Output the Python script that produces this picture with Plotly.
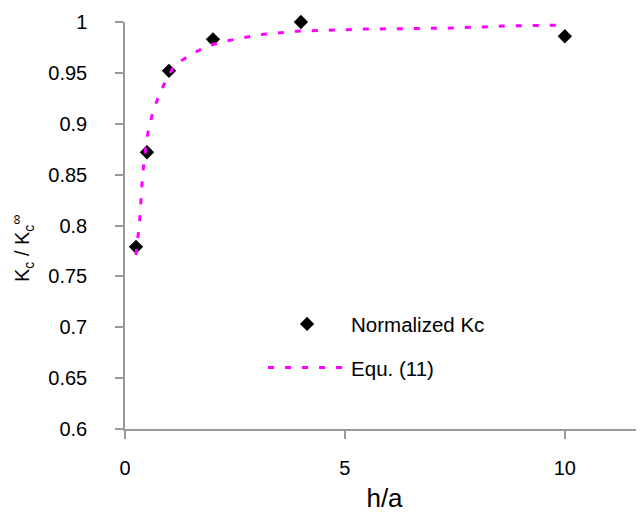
import plotly.graph_objects as go

# Measured data (Normalized Kc)
ha_data = [0.25, 0.5, 1.0, 2.0, 4.0, 10.0]
kc_data = [0.779, 0.872, 0.952, 0.983, 1.0, 0.986]

# Equ. (11) curve
ha_eq = [0.25, 0.27, 0.33, 0.39, 0.43, 0.52, 0.63, 0.79, 0.95, 1.13, 1.5, 1.85, 2.26, 3.06,
         3.9, 5.4, 7.4, 8.6, 10.0]
kc_eq = [0.771, 0.779, 0.803, 0.843, 0.862, 0.891, 0.911, 0.930, 0.944, 0.958, 0.968, 0.976,
         0.981, 0.9875, 0.991, 0.993, 0.994, 0.996, 0.997]

y_tickvals = [0.6, 0.65, 0.7, 0.75, 0.8, 0.85, 0.9, 0.95, 1.0]
y_ticktext = ["0.6", "0.65", "0.7", "0.75", "0.8", "0.85", "0.9", "0.95", "1"]
x_tickvals = [0, 5, 10]
x_ticktext = ["0", "5", "10"]

FONT = "Liberation Sans, Arial, sans-serif"

fig = go.Figure()
fig.add_trace(go.Scatter(
    x=ha_data, y=kc_data, mode="markers", name="Normalized Kc",
    marker=dict(symbol="diamond", size=11, color="black"),
    cliponaxis=False, legendgroup="a",
))
fig.add_trace(go.Scatter(
    x=ha_eq, y=kc_eq, mode="lines", name="Equ. (11)",
    line=dict(color="#FF00FF", width=3, dash="6px,11px"),
    cliponaxis=False, legendgroup="b",
))

fig.update_layout(
    width=636, height=505,
    margin=dict(l=117, r=0, t=14, b=84),
    paper_bgcolor="white", plot_bgcolor="white",
    font=dict(family=FONT, size=20, color="black"),
    showlegend=True,
    legend=dict(x=0.266, y=0.307, xanchor="left", yanchor="top",
                bgcolor="rgba(0,0,0,0)", font=dict(size=20.5, family=FONT),
                itemwidth=78, tracegroupgap=14),
    xaxis=dict(range=[0, 11.8], tickvals=x_tickvals, ticktext=x_ticktext,
               showgrid=False, zeroline=False, showline=True, linecolor="#999999",
               linewidth=1.5, ticks="outside", ticklen=8, tickcolor="#999999",
               tickwidth=1.5, ticklabelstandoff=12,
               title=dict(text="h/a", font=dict(size=26, family=FONT), standoff=11)),
    yaxis=dict(range=[0.6, 1.0], tickvals=y_tickvals, ticktext=y_ticktext,
               showgrid=False, zeroline=False, showline=True, linecolor="#999999",
               linewidth=1.5, ticks="outside", ticklen=8, tickcolor="#999999",
               tickwidth=1.5, ticklabelstandoff=24),
)

# y-axis title (positioned like the original, slightly below centre)
fig.add_annotation(
    text="K<sub>c</sub> / K<sub>c</sub><sup>∞</sup>",
    textangle=-90, showarrow=False,
    xref="paper", yref="paper",
    x=-103 / 519, y=180 / 407,
    xanchor="center", yanchor="middle",
    font=dict(size=20, family=FONT),
)

fig.write_html("out.html")
